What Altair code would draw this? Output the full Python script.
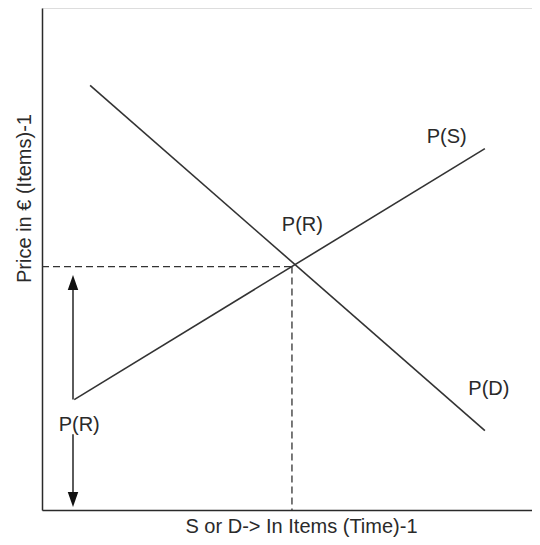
import altair as alt
import pandas as pd

# data coordinates (x domain 0..98.8, y domain 0..100)
supply_x = [6.5, 89.3]
supply_y = [22.0, 72.0]
demand_x = [9.7, 89.3]
demand_y = [84.6, 15.8]
eq_x = 50.4
eq_y = 48.5
arrow_x = 6.25
arrow_top_seg = [45.0, 22.0]
arrow_bot_seg = [15.1, 2.0]
arrow_tips = [45.3, 2.07]

label_text = ["P(S)", "P(R)", "P(D)", "P(R)"]
label_x = [81.6, 52.5, 90.1, 7.5]
label_y = [74.4, 56.8, 24.1, 17.0]

xs = alt.Scale(domain=[0, 98.8], nice=False, zero=False)
ys = alt.Scale(domain=[0, 100], nice=False, zero=False)
INK = "#2a2a2a"
FONT = "Liberation Sans"

solid = pd.DataFrame({
    "x": supply_x + demand_x + [arrow_x, arrow_x] + [arrow_x, arrow_x],
    "y": supply_y + demand_y + arrow_top_seg + arrow_bot_seg,
    "seg": ["S", "S", "D", "D", "A1", "A1", "A2", "A2"],
})
dashed = pd.DataFrame({
    "x": [0, eq_x, eq_x, eq_x],
    "y": [eq_y, eq_y, eq_y, 0],
    "seg": ["h", "h", "v", "v"],
})
labels = pd.DataFrame({"t": label_text, "x": label_x, "y": label_y})
up = pd.DataFrame({"x": [arrow_x], "y": [arrow_tips[0]]})
down = pd.DataFrame({"x": [arrow_x], "y": [arrow_tips[1]]})

xenc = alt.X("x:Q", scale=xs, axis=alt.Axis(
    title="S or D-> In Items (Time)-1", labels=False, ticks=False, grid=False,
    domainColor=INK, domainWidth=1.5, titleFont=FONT, titleFontSize=20,
    titleFontWeight="normal", titleColor=INK, titleX=259, titleY=16,
    titleAlign="center", titleBaseline="middle"))
yenc = alt.Y("y:Q", scale=ys, axis=alt.Axis(
    title="Price in € (Items)-1", labels=False, ticks=False, grid=False,
    domainColor=INK, domainWidth=1.5, titleFont=FONT, titleFontSize=20,
    titleFontWeight="normal", titleColor=INK, titleX=-18, titleY=190,
    titleAlign="center", titleBaseline="middle", titleAngle=270))

lines = alt.Chart(solid).mark_line(color="#333333", strokeWidth=1.6).encode(
    x=xenc, y=yenc, detail="seg:N")
dash = alt.Chart(dashed).mark_line(color="#333333", strokeWidth=1.3, strokeDash=[7, 4]).encode(
    x=alt.X("x:Q", scale=xs), y=alt.Y("y:Q", scale=ys), detail="seg:N")
txt = alt.Chart(labels).mark_text(font=FONT, fontSize=20, color=INK,
                                   align="center", baseline="middle").encode(
    x=alt.X("x:Q", scale=xs), y=alt.Y("y:Q", scale=ys), text="t:N")
head_up = alt.Chart(up).mark_point(shape="M0,-1L0.7,1L-0.7,1Z", size=225, filled=True,
                                   color="#111111", opacity=1).encode(
    x=alt.X("x:Q", scale=xs), y=alt.Y("y:Q", scale=ys))
head_down = alt.Chart(down).mark_point(shape="M0,1L0.7,-1L-0.7,-1Z", size=225, filled=True,
                                       color="#111111", opacity=1).encode(
    x=alt.X("x:Q", scale=xs), y=alt.Y("y:Q", scale=ys))

chart = alt.layer(lines, dash, txt, head_up, head_down).properties(
    width=490, height=502,
    autosize=alt.AutoSizeParams(type="none"),
    padding={"left": 34, "top": 0, "right": 0, "bottom": 27},
).configure_view(stroke=None).configure(background="white")

chart.save("out.html", embed_options={"renderer": "svg", "actions": False})
